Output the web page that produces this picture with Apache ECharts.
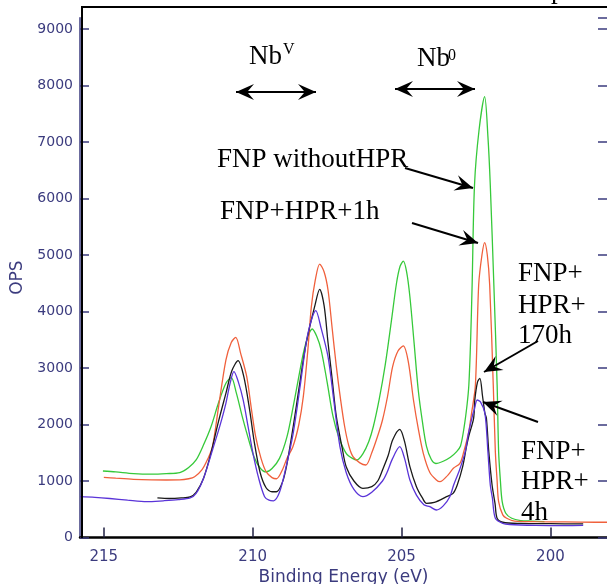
<!DOCTYPE html>
<html>
<head>
<meta charset="utf-8">
<title>Nb 3d XPS</title>
<script src="https://cdn.jsdelivr.net/npm/echarts@6/dist/echarts.min.js"></script>
<style>
  html, body { margin: 0; padding: 0; background: #fff; }
  #chart { width: 607px; height: 584px; }
</style>
</head>
<body>
<div id="chart"></div>
<script>
// binding energy (eV), counts
var fnpWithoutHpr = [
  [215.03,1177],[214.6,1160],[214.0,1130],[213.4,1120],[212.9,1130],[212.45,1150],[212.15,1240],
  [211.9,1372],[211.65,1640],[211.4,1960],[211.15,2380],[210.9,2730],[210.72,2830],[210.55,2560],
  [210.35,2140],[210.15,1760],[209.95,1420],[209.75,1230],[209.55,1160],[209.35,1220],[209.1,1400],
  [208.85,1780],[208.64,2315],[208.45,2850],[208.3,3260],[208.15,3550],[208.0,3690],[207.85,3560],
  [207.7,3318],[207.5,2750],[207.3,2138],[207.1,1760],[206.86,1490],[206.65,1400],[206.5,1372],
  [206.3,1480],[206.1,1700],[205.95,1960],[205.75,2450],[205.55,3050],[205.35,3800],[205.17,4500],
  [205.05,4800],[204.94,4890],[204.83,4700],[204.72,4262],[204.58,3450],[204.44,2610],[204.3,2050],
  [204.16,1607],[204.0,1380],[203.85,1310],[203.6,1350],[203.36,1420],[203.15,1520],[203.02,1620],
  [202.9,1950],[202.8,2350],[202.74,2700],[202.68,3500],[202.63,4470],[202.55,6240],[202.4,7200],
  [202.21,7802],[202.1,7100],[202.02,6240],[201.9,4470],[201.79,2700],[201.74,1520],[201.68,1000],
  [201.62,634],[201.5,430],[201.3,340],[201.0,300],[200.6,290],[200.2,280]
];
var fnpHpr1h = [
  [215.0,1065],[214.6,1050],[214.0,1030],[213.4,1020],[212.9,1018],[212.45,1020],[212.15,1040],
  [211.95,1076],[211.7,1200],[211.5,1400],[211.35,1607],[211.15,2300],[210.9,3140],[210.72,3450],
  [210.57,3543],[210.4,3250],[210.2,2846],[210.05,2300],[209.9,1784],[209.72,1400],[209.55,1165],
  [209.35,1060],[209.2,1040],[209.0,1200],[208.85,1400],[208.65,1607],[208.45,2000],[208.3,2492],
  [208.15,3300],[208.03,4085],[207.9,4550],[207.75,4840],[207.6,4700],[207.47,4380],[207.33,3700],
  [207.19,3023],[207.05,2450],[206.91,1960],[206.77,1620],[206.63,1430],[206.4,1320],[206.2,1283],
  [206.0,1500],[205.8,1800],[205.64,2080],[205.47,2500],[205.3,3023],[205.12,3300],[204.94,3390],
  [204.77,3100],[204.6,2434],[204.43,1900],[204.27,1490],[204.05,1150],[203.83,1018],[203.71,988],
  [203.45,1100],[203.26,1225],[203.04,1313],[202.91,1519],[202.75,1850],[202.65,2198],[202.52,2699],
  [202.41,4469],[202.3,5000],[202.21,5220],[202.12,5000],[202.04,4469],[201.92,2699],[201.85,1519],
  [201.79,1000],[201.74,634],[201.6,400],[201.47,340],[201.2,290],[200.5,280],[199.5,275],
  [198.5,270],[198.1,270]
];
var fnpHpr170h = [
  [213.2,700],[212.8,690],[212.4,700],[212.1,720],[211.9,800],[211.65,1050],[211.4,1500],
  [211.15,2050],[210.9,2550],[210.7,2950],[210.49,3130],[210.3,2850],[210.1,2250],[209.95,1700],
  [209.75,1150],[209.55,880],[209.35,810],[209.2,810],[209.0,980],[208.85,1300],[208.64,1960],
  [208.4,2800],[208.2,3451],[207.92,4085],[207.75,4393],[207.6,4100],[207.47,3451],[207.33,2800],
  [207.19,2138],[207.0,1600],[206.86,1253],[206.6,1000],[206.3,870],[206.0,900],[205.8,1000],
  [205.64,1195],[205.45,1450],[205.3,1726],[205.06,1915],[204.9,1700],[204.72,1253],[204.5,900],
  [204.3,700],[204.16,605],[203.9,620],[203.49,722],[203.27,782],[203.13,929],[202.95,1250],
  [202.82,1607],[202.74,1800],[202.58,2110],[202.54,2434],[202.45,2750],[202.37,2818],[202.28,2500],
  [202.2,2198],[202.15,2110],[202.07,1519],[201.96,929],[201.86,600],[201.79,340],[201.6,270],
  [201.0,250],[200.0,245],[198.9,240]
];
var fnpHpr4h = [
  [215.8,722],[215.3,710],[214.8,690],[214.2,660],[213.56,634],[213.0,650],[212.5,670],[212.1,700],
  [211.9,780],[211.65,1050],[211.35,1549],[211.1,1980],[210.9,2375],[210.75,2750],[210.63,2935],
  [210.48,2750],[210.32,2434],[210.15,1950],[209.99,1490],[209.8,1050],[209.6,722],[209.45,660],
  [209.3,650],[209.1,800],[208.9,1200],[208.64,1844],[208.4,2700],[208.15,3600],[207.88,4014],
  [207.7,3700],[207.47,3200],[207.27,2400],[207.07,1607],[206.86,1150],[206.6,850],[206.3,722],
  [206.0,800],[205.64,1000],[205.5,1136],[205.3,1400],[205.06,1607],[204.9,1400],[204.72,1018],
  [204.5,750],[204.25,580],[204.05,545],[203.83,487],[203.6,560],[203.38,722],[203.25,929],
  [203.05,1200],[202.86,1519],[202.75,1850],[202.6,2198],[202.56,2257],[202.46,2434],[202.35,2400],
  [202.2,2198],[202.1,1519],[202.02,929],[201.95,700],[201.85,340],[201.6,250],[201.36,230],
  [200.5,215],[199.5,210],[198.9,215]
];
var xTicks = [215, 210, 205, 200];

var navy = '#3b3b7e';
var serif = 'Liberation Serif';

function arrowHead(x0, y0, x1, y1) {
  var dx = x1 - x0, dy = y1 - y0;
  var len = Math.sqrt(dx * dx + dy * dy);
  var ux = dx / len, uy = dy / len;
  var nx = -uy, ny = ux;
  var L = 18, W = 8;
  return {
    type: 'polygon', z: 100,
    shape: { points: [
      [x1, y1],
      [x1 - L * ux + W * nx, y1 - L * uy + W * ny],
      [x1 - 0.62 * L * ux, y1 - 0.62 * L * uy],
      [x1 - L * ux - W * nx, y1 - L * uy - W * ny]
    ] },
    style: { fill: '#000' }
  };
}
function arrow(x0, y0, x1, y1) {
  return [
    { type: 'line', z: 100, shape: { x1: x0, y1: y0, x2: x1, y2: y1 }, style: { stroke: '#000', lineWidth: 2 } },
    arrowHead(x0, y0, x1, y1)
  ];
}
function doubleArrow(x0, y0, x1, y1) {
  return arrow(x0, y0, x1, y1).concat([arrowHead(x1, y1, x0, y0)]);
}
function label(x, y, text, size) {
  return {
    type: 'text', z: 100, x: x, y: y,
    style: { text: text, fill: '#000', font: (size || 27) + 'px "' + serif + '"', verticalAlign: 'middle' }
  };
}

var graphics = [
  { type: 'line', z: 90, shape: { x1: 81, y1: 7, x2: 607, y2: 7 }, style: { stroke: '#000', lineWidth: 2 } },
  { type: 'line', z: 90, shape: { x1: 82, y1: 7, x2: 82, y2: 538 }, style: { stroke: '#000', lineWidth: 2 } },
  label(551, -9, 'p'),
  label(249, 57, 'Nb'), label(283, 50, 'V', 16),
  label(417, 59, 'Nb'), label(448, 56, '0', 16),
  label(217, 160, 'FNP withoutHPR'),
  label(220, 212, 'FNP+HPR+1h'),
  label(518, 274, 'FNP+'), label(518, 306, 'HPR+'), label(518, 336, '170h'),
  label(521, 452, 'FNP+'), label(521, 482, 'HPR+'), label(521, 513, '4h')
]
  .concat(doubleArrow(236, 92, 316, 92))
  .concat(doubleArrow(395, 89, 475, 89))
  .concat(arrow(405, 168, 473, 188))
  .concat(arrow(412, 223, 478, 243))
  .concat(arrow(538, 341, 484, 372))
  .concat(arrow(538, 422, 483, 402));

var chart = echarts.init(document.getElementById('chart'));
chart.setOption({
  animation: false,
  backgroundColor: '#fff',
  grid: { left: 80, right: 0, top: 17.7, bottom: 46.5, outerBoundsMode: 'none', containLabel: false },
  xAxis: {
    type: 'value', inverse: true, min: 198.1, max: 215.8,
    name: 'Binding Energy (eV)', nameLocation: 'middle', nameGap: 31,
    nameTextStyle: { color: navy, fontSize: 17, fontFamily: 'DejaVu Sans' },
    axisLine: { show: true, lineStyle: { color: '#000', width: 2.5 } },
    axisTick: { show: true, inside: true, length: 10, customValues: xTicks, lineStyle: { color: '#222244', width: 1.5 } },
    axisLabel: { customValues: xTicks, color: navy, fontSize: 15, fontFamily: 'DejaVu Sans', margin: 12 },
    splitLine: { show: false }
  },
  yAxis: [{
    type: 'value', min: 0, max: 9200, interval: 1000,
    name: 'OPS', nameLocation: 'middle', nameGap: 53,
    nameTextStyle: { color: navy, fontSize: 17, fontFamily: 'DejaVu Sans' },
    axisLine: { show: true, lineStyle: { color: navy, width: 1.5 } },
    axisTick: { show: true, inside: true, length: 9, lineStyle: { color: navy, width: 1.5 } },
    axisLabel: { color: navy, fontSize: 14, fontFamily: 'DejaVu Sans', margin: 7,
      formatter: function (v) { return String(v); } },
    splitLine: { show: false }
  }, {
    type: 'value', min: 0, max: 9200, interval: 1000, position: 'right',
    axisLine: { show: false },
    axisTick: { show: true, inside: true, length: 9, lineStyle: { color: navy, width: 1.5 } },
    axisLabel: { show: false },
    splitLine: { show: false }
  }],
  series: [
    { name: 'FNP withoutHPR', type: 'line', data: fnpWithoutHpr, showSymbol: false, smooth: 0.3,
      lineStyle: { color: '#36c93a', width: 1.3 } },
    { name: 'FNP+HPR+1h', type: 'line', data: fnpHpr1h, showSymbol: false, smooth: 0.3,
      lineStyle: { color: '#f0603c', width: 1.3 } },
    { name: 'FNP+HPR+170h', type: 'line', data: fnpHpr170h, showSymbol: false, smooth: 0.3,
      lineStyle: { color: '#1a1a1a', width: 1.3 } },
    { name: 'FNP+HPR+4h', type: 'line', data: fnpHpr4h, showSymbol: false, smooth: 0.3,
      lineStyle: { color: '#5a34d8', width: 1.3 } }
  ],
  graphic: graphics
});
</script>
</body>
</html>
